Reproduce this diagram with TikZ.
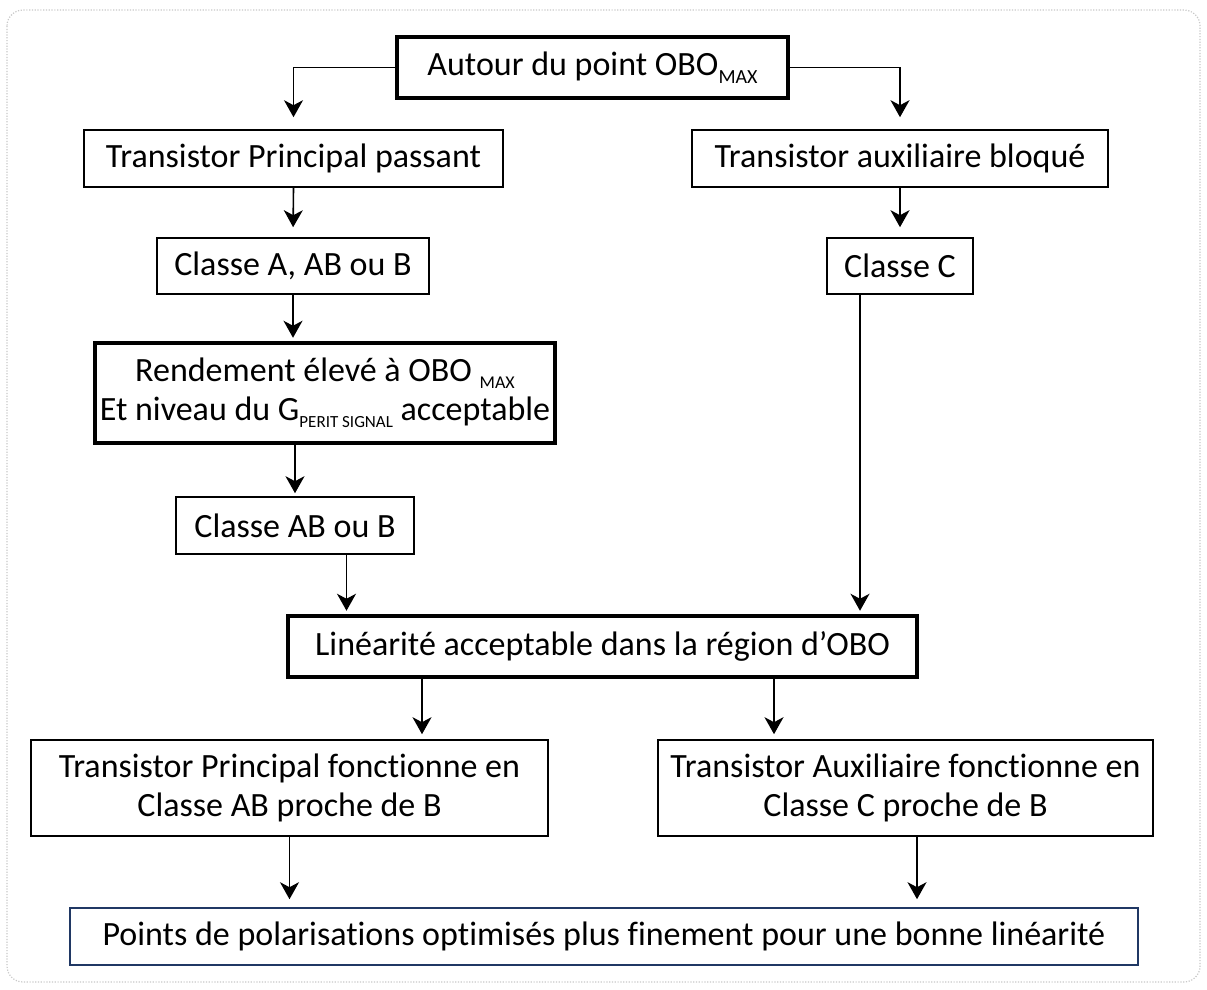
\documentclass[tikz,border=0pt]{standalone}
\usepackage{fontspec}
\setmainfont{Carlito}[Ligatures=NoCommon]
\usetikzlibrary{arrows.meta,calc}
\definecolor{frameblue}{RGB}{32,56,100}
\definecolor{framegray}{RGB}{200,200,200}
\newcommand\subsc[2][20]{\raisebox{-0.22em}{\fontsize{#1}{#1}\selectfont #2}}
\begin{document}
\begin{tikzpicture}[x=1pt,y=-1pt,
  every node/.style={font=\fontsize{34}{39}\selectfont, inner sep=0pt, align=center},
  thinbox/.style={draw=black, line width=1.6pt, rectangle},
  thickbox/.style={draw=black, line width=4.5pt, rectangle},
  bluebox/.style={draw=frameblue, line width=1.6pt, rectangle},
  arr/.style={draw=black, line width=1.6pt, -{Stealth[length=17pt,width=19pt,inset=5pt]}}]
\useasboundingbox (0,0) rectangle (1207,989);
\draw[framegray, line width=1.2pt, dash pattern=on 1.2pt off 1.6pt, rounded corners=16pt] (7,10) rectangle (1200,982);

\node[thickbox, minimum width=391pt, minimum height=61pt] (top) at (592.5,67.5) {Autour du point OBO\subsc{MAX}};
\node[thinbox, minimum width=419pt, minimum height=57pt] (b2) at (293.5,158.5) {Transistor Principal passant};
\node[thinbox, minimum width=416pt, minimum height=57pt] (b3) at (900,158.5) {Transistor auxiliaire bloqué};
\node[thinbox, minimum width=272pt, minimum height=56pt] (b4) at (293,266) {Classe A, AB ou B};
\node[thinbox, minimum width=146pt, minimum height=56pt] (b5) at (900,266) {Classe C};
\node[thickbox, minimum width=460pt, minimum height=100pt] (b6) at (325,393) {Rendement élevé à OBO \subsc[18]{MAX}\\Et niveau du G\subsc[17]{PERIT SIGNAL} acceptable};
\node[thinbox, minimum width=238pt, minimum height=57pt] (b7) at (295,525.5) {Classe AB ou B};
\node[thickbox, minimum width=629pt, minimum height=61pt] (lin) at (602.5,646.5) {Linéarité acceptable dans la région d’OBO};
\node[thinbox, minimum width=517pt, minimum height=96pt] (b9) at (289.5,788) {Transistor Principal fonctionne en\\Classe AB proche de B};
\node[thinbox, minimum width=495pt, minimum height=96pt] (b10) at (905.5,788) {Transistor Auxiliaire fonctionne en\\Classe C proche de B};
\node[bluebox, minimum width=1068pt, minimum height=57pt] (bot) at (604,936.5) {Points de polarisations optimisés plus finement pour une bonne linéarité};

\coordinate (c7) at ([xshift=51.5pt]b7.south);
\coordinate (c5) at ([xshift=-40pt]b5.south);
\coordinate (l9) at ([xshift=-180.5pt]lin.south);
\coordinate (l10) at ([xshift=171.5pt]lin.south);
\coordinate (c10) at ([xshift=11.5pt]b10.south);

\draw[arr, shorten >=12pt] (top.west) -| (b2.north);
\draw[arr, shorten >=12pt] (top.east) -| (b3.north);
\draw[arr, shorten >=10pt] (b2.south) -- (b4.north);
\draw[arr, shorten >=10pt] (b3.south) -- (b5.north);
\draw[arr, shorten >=3pt] (b4.south) -- (b4.south |- b6.north);
\draw[arr, shorten >=3pt] (b7.north |- b6.south) -- (b7.north);
\draw[arr, shorten >=3pt] (c7) -- (c7 |- lin.north);
\draw[arr, shorten >=3pt] (c5) -- (c5 |- lin.north);
\draw[arr, shorten >=5pt] (l9) -- (l9 |- b9.north);
\draw[arr, shorten >=5pt] (l10) -- (l10 |- b10.north);
\draw[arr, shorten >=8pt] (b9.south) -- (b9.south |- bot.north);
\draw[arr, shorten >=8pt] (c10) -- (c10 |- bot.north);
\end{tikzpicture}
\end{document}
